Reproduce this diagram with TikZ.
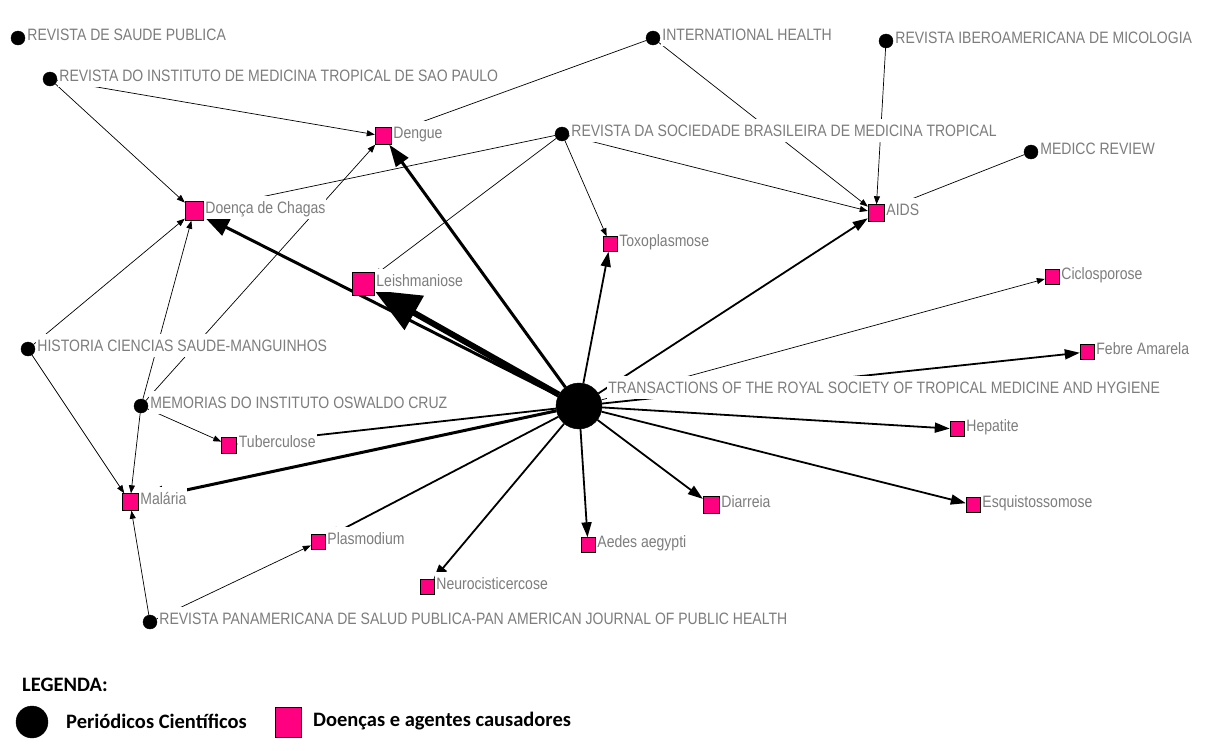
\documentclass[tikz,border=0pt]{standalone}
\usepackage{fontspec}
\setmainfont{Liberation Sans}
\newfontfamily\lblfont[FakeStretch=0.85]{Liberation Sans}
\newfontfamily\legfont{Carlito}
\usetikzlibrary{arrows.meta}
\pgfdeclarelayer{bg}
\pgfsetlayers{bg,main}
\definecolor{diseasepink}{RGB}{255,0,128}
\definecolor{labelgray}{RGB}{125,125,125}

\begin{document}
\begin{tikzpicture}[x=1pt, y=-1pt,
 journal/.style = {draw, circle, fill=black, inner sep=0pt, minimum size=14pt},
 disease/.style = {draw, fill=diseasepink, inner sep=0pt, minimum width=#1, minimum height=#1+1pt},
 disease/.default = 14pt,
 lbl/.style = {fill=white, text=labelgray, inner xsep=1pt, inner ysep=3pt, text height=14pt, text depth=3pt, yshift=3.5pt, label distance=1pt, font=\lblfont\fontsize{16.5}{18}\selectfont},
 weaklink/.style = {line width=0.7pt, -{Triangle[length=8pt, width=6pt]}},
 midlink/.style = {line width=1.8pt, -{Triangle[length=15pt, width=10pt]}},
 stronglink/.style = {line width=3pt, -{Triangle[length=26pt, width=18pt]}},
 heavylink/.style = {line width=6pt, -{Triangle[length=46pt, width=38pt]}},
 legtxt/.style = {anchor=west, inner sep=0pt, font=\legfont\bfseries\fontsize{20.5}{23}\selectfont}]

\useasboundingbox (0,0) rectangle (1208,750);

% journals
\node[journal, label={[lbl]right:REVISTA DE SAUDE PUBLICA}] (rsp) at (18,38) {};
\node[journal, label={[lbl]right:REVISTA DO INSTITUTO DE MEDICINA TROPICAL DE SAO PAULO}] (rimtsp) at (50,79) {};
\node[journal, label={[lbl]right:INTERNATIONAL HEALTH}] (intl) at (653,38) {};
\node[journal, label={[lbl]right:REVISTA DA SOCIEDADE BRASILEIRA DE MEDICINA TROPICAL}] (rsbmt) at (562,134) {};
\node[journal, label={[lbl]right:REVISTA IBEROAMERICANA DE MICOLOGIA}] (ribm) at (886,41) {};
\node[journal, label={[lbl]right:MEDICC REVIEW}] (medicc) at (1031,152) {};
\node[journal, label={[lbl]right:HISTORIA CIENCIAS SAUDE-MANGUINHOS}] (historia) at (28,349) {};
\node[journal, label={[lbl]right:MEMORIAS DO INSTITUTO OSWALDO CRUZ}] (memorias) at (141,406) {};
\node[journal, label={[lbl]right:REVISTA PANAMERICANA DE SALUD PUBLICA-PAN AMERICAN JOURNAL OF PUBLIC HEALTH}] (rpsp) at (150,622) {};
\node[journal, minimum size=46pt, label={[lbl, xshift=4pt, yshift=15pt]right:TRANSACTIONS OF THE ROYAL SOCIETY OF TROPICAL MEDICINE AND HYGIENE}] (trans) at (579,406) {};

% diseases
\node[disease=16pt, label={[lbl]right:Dengue}] (dengue) at (383,136) {};
\node[disease=18pt, label={[lbl]right:Doença de Chagas}] (chagas) at (194,211) {};
\node[disease=16pt, label={[lbl]right:AIDS}] (aids) at (876,213) {};
\node[disease, label={[lbl]right:Toxoplasmose}] (toxo) at (610,244) {};
\node[disease=22pt, label={[lbl]right:Leishmaniose}] (leish) at (363,284) {};
\node[disease, label={[lbl]right:Ciclosporose}] (ciclo) at (1052,277) {};
\node[disease, label={[lbl]right:Febre Amarela}] (febre) at (1087,352) {};
\node[disease=15pt, label={[lbl]right:Tuberculose}] (tuber) at (229,445) {};
\node[disease, label={[lbl]right:Hepatite}] (hepat) at (957,429) {};
\node[disease=16pt, label={[lbl]right:Malária}] (malaria) at (130,502) {};
\node[disease=16pt, label={[lbl]right:Diarreia}] (diarreia) at (711,505) {};
\node[disease, label={[lbl]right:Esquistossomose}] (esquisto) at (973,505) {};
\node[disease, label={[lbl]right:Plasmodium}] (plasmo) at (318,542) {};
\node[disease, label={[lbl]right:Aedes aegypti}] (aedes) at (588,545) {};
\node[disease, label={[lbl]right:Neurocisticercose}] (neuro) at (427,587) {};

\begin{pgfonlayer}{bg}
\draw[weaklink] (rimtsp) -- (dengue);
\draw[weaklink] (rimtsp) -- (chagas);
\draw[weaklink] (intl) -- (dengue);
\draw[weaklink] (intl) -- (aids);
\draw[weaklink] (rsbmt) -- (chagas);
\draw[weaklink] (rsbmt) -- (leish);
\draw[weaklink] (rsbmt) -- (toxo);
\draw[weaklink] (rsbmt) -- (aids);
\draw[weaklink] (ribm) -- (aids);
\draw[weaklink] (medicc) -- (aids);
\draw[weaklink] (historia) -- (chagas);
\draw[weaklink] (historia) -- (malaria);
\draw[weaklink] (memorias) -- (chagas);
\draw[weaklink] (memorias) -- (dengue);
\draw[weaklink] (memorias) -- (tuber);
\draw[weaklink] (memorias) -- (malaria);
\draw[weaklink] (rpsp) -- (malaria);
\draw[weaklink] (rpsp) -- (plasmo);
\draw[weaklink] (trans) -- (ciclo);
\draw[heavylink] (trans) -- (leish);
\draw[stronglink] (trans) -- (chagas);
\draw[stronglink, -{Triangle[length=22pt, width=15pt]}] (trans) -- (dengue);
\draw[stronglink] (trans) -- (malaria);
\draw[midlink] (trans) -- (toxo);
\draw[midlink] (trans) -- (aids);
\draw[midlink] (trans) -- (febre);
\draw[midlink] (trans) -- (hepat);
\draw[midlink] (trans) -- (esquisto);
\draw[midlink] (trans) -- (diarreia);
\draw[midlink] (trans) -- (aedes);
\draw[midlink] (trans) -- (neuro);
\draw[midlink] (trans) -- (plasmo);
\draw[midlink] (trans) -- (tuber);
\end{pgfonlayer}

% legend
\node[legtxt] (legTitle) at (22,685) {LEGENDA:};
\node[draw, circle, fill=black, minimum size=32pt, inner sep=0pt] (legJournal) at (32,722) {};
\node[legtxt] (legJournalTxt) at (66,721) {Periódicos Científicos};
\node[draw, line width=1pt, fill=diseasepink, minimum width=26pt, minimum height=30pt, inner sep=0pt] (legDisease) at (288,722) {};
\node[legtxt] (legDiseaseTxt) at (313,721) {Doenças e agentes causadores};

\end{tikzpicture}
\end{document}
